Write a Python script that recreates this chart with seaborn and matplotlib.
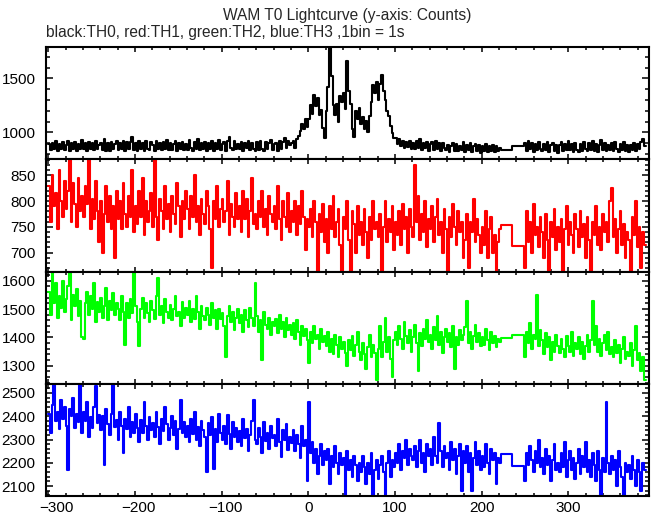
import numpy as np
import pandas as pd
import matplotlib
matplotlib.use("Agg")
import matplotlib.pyplot as plt
import matplotlib.transforms as mtransforms
from matplotlib.ticker import MultipleLocator
import seaborn as sns

# ---------------- text ----------------
TITLE = "WAM T0 Lightcurve (y-axis: Counts)"
SUBTITLE = "black:TH0, red:TH1, green:TH2, blue:TH3 ,1bin = 1s"

BANDS = ["TH0", "TH1", "TH2", "TH3"]

# ---------------- time grid (s) ----------------
SEG1_START = -300        # first data block starts here
SEG2_START = 249         # data resumes after the gap
BIN_WIDTH = 2
GAP_STARTS = [222, 235]  # two long bins spanning the data gap

# ---------------- counts ----------------
th0_seg1 = [
    890, 835, 905, 850, 920, 830, 895, 842, 910, 838,
    880, 925, 832, 900, 848, 915, 828, 890, 845, 930,
    842, 900, 826, 912, 850, 898, 835, 920, 846, 888,
    905, 840, 935, 832, 898, 826, 915, 845, 892, 918,
    835, 902, 848, 925, 828, 908, 842, 915, 955, 838,
    900, 826, 918, 845, 905, 832, 925, 850, 838, 910,
    885, 830, 920, 848, 902, 836, 912, 842, 928, 840,
    905, 834, 895, 922, 830, 900, 848, 915, 836, 890,
    840, 926, 852, 830, 910, 845, 940, 835, 900, 846,
    915, 832, 898, 850, 922, 828, 905, 845, 930, 838,
    895, 912, 830, 920, 955, 860, 835, 918, 850, 890,
    845, 915, 828, 900, 852, 925, 836, 905, 848, 826,
    908, 840, 920, 850, 830, 912, 846, 898, 928, 836,
    890, 905, 832, 918, 850, 910, 945, 860, 925, 880,
    900, 922, 860, 940, 965, 1010, 1075, 1030, 1120, 1050,
    1120, 1250, 1170, 1350, 1240, 1320, 1160, 1210, 1040, 950,
    1200, 1420, 1790, 1520, 1250, 1160, 1260, 1100, 1340, 1280,
    1360, 1220, 1660, 1380, 1260, 1030, 955, 1200, 1120, 1230,
    1080, 1140, 1030, 1110, 1000, 1150, 1280, 1440, 1360, 1470,
    1300, 1450, 1530, 1380, 1300, 1200, 1150, 1060, 990, 950,
    950, 890, 935, 870, 920, 860, 915, 865, 925, 850,
    905, 845, 920, 858, 935, 840, 900, 852, 915, 832,
    890, 908, 836, 922, 850, 898, 825, 905, 852, 840,
    885, 822, 875, 905, 830, 892, 824, 878, 838, 908,
    822, 884, 834, 898, 815, 872, 890, 828, 880, 812,
    872, 826, 895, 818, 876, 832, 888, 815, 870, 824,
    860,
]
th0_gap = [838, 875]
th0_seg2 = [
    900, 830, 920, 845, 905, 822, 890, 835, 915, 842,
    826, 892, 840, 908, 820, 885, 898, 832, 888, 812,
    880, 912, 825, 895, 840, 922, 834, 890, 822, 905,
    840, 815, 895, 830, 908, 846, 824, 898, 838, 918,
    828, 890, 822, 882, 930, 835, 898, 826, 886, 840,
    898, 830, 912, 844, 822, 890, 838, 908, 830, 888,
    818, 880, 834, 898, 826, 890, 842, 915, 935, 870,
]

th1_seg1 = [
    830, 760, 850, 790, 815, 745, 860, 800, 770, 840,
    785, 820, 881, 760, 835, 795, 750, 845, 780, 810,
    770, 830, 795, 881, 745, 805, 765, 840, 780, 720,
    800, 700, 775, 830, 760, 810, 745, 790, 690, 820,
    765, 800, 745, 835, 775, 750, 810, 770, 860, 740,
    790, 755, 820, 770, 845, 735, 800, 760, 780, 815,
    750, 881, 770, 725, 805, 780, 745, 830, 765, 795,
    740, 810, 775, 755, 835, 790, 730, 800, 765, 820,
    785, 745, 810, 770, 850, 760, 790, 735, 805, 775,
    755, 820, 790, 745, 670, 800, 765, 830, 750, 785,
    805, 760, 780, 840, 735, 795, 770, 750, 815, 765,
    790, 740, 820, 765, 805, 730, 780, 845, 755, 775,
    745, 800, 770, 820, 750, 785, 735, 810, 775, 760,
    790, 745, 830, 765, 725, 800, 770, 750, 815, 740,
    780, 760, 800, 735, 790, 755, 820, 770, 705, 765,
    750, 785, 730, 800, 760, 662, 775, 740, 795, 720,
    765, 700, 790, 745, 810, 730, 760, 785, 715, 662,
    770, 745, 800, 725, 662, 780, 755, 700, 790, 735,
    760, 715, 785, 740, 690, 770, 725, 800, 745, 760,
    730, 775, 662, 750, 800, 720, 765, 740, 790, 705,
    760, 735, 780, 715, 795, 745, 770, 700, 785, 750,
    730, 870, 760, 810, 725, 775, 740, 800, 710, 765,
    745, 790, 720, 770, 805, 735, 760, 700, 785, 745,
    662, 770, 730, 795, 750, 715, 780, 740, 760, 690,
    725, 775, 670, 760, 740, 805, 720, 765, 735, 700,
    750, 715, 780, 690, 745, 770, 700, 735, 662, 720,
    745,
]
th1_gap = [754, 713]
th1_seg2 = [
    670, 780, 720, 760, 700, 795, 735, 750, 710, 770,
    740, 690, 775, 725, 665, 760, 730, 785, 705, 750,
    720, 765, 662, 745, 790, 715, 760, 735, 700, 775,
    745, 710, 780, 730, 755, 690, 770, 725, 665, 760,
    735, 790, 715, 750, 705, 775, 740, 760, 720, 800,
    825, 730, 765, 700, 745, 780, 715, 755, 690, 740,
    725, 662, 770, 735, 800, 710, 750, 670, 740, 715,
]

th2_seg1 = [
    1560, 1480, 1632, 1520, 1590, 1470, 1545, 1505, 1600, 1490,
    1535, 1580, 1632, 1460, 1550, 1510, 1570, 1475, 1530, 1400,
    1395, 1520, 1560, 1480, 1545, 1500, 1590, 1455, 1525, 1490,
    1540, 1470, 1510, 1575, 1460, 1530, 1495, 1555, 1480, 1520,
    1500, 1460, 1545, 1490, 1375, 1520, 1470, 1535, 1485, 1632,
    1510, 1455, 1370, 1500, 1540, 1470, 1520, 1485, 1455, 1530,
    1495, 1465, 1545, 1610, 1480, 1510, 1450, 1535, 1490, 1470,
    1515, 1460, 1500, 1545, 1475, 1490, 1440, 1525, 1470, 1505,
    1480, 1530, 1455, 1500, 1465, 1545, 1490, 1430, 1510, 1475,
    1460, 1505, 1480, 1445, 1520, 1470, 1495, 1430, 1500, 1465,
    1485, 1440, 1330, 1475, 1510, 1455, 1490, 1425, 1470, 1500,
    1450, 1480, 1420, 1495, 1460, 1435, 1505, 1470, 1440, 1590,
    1475, 1420, 1460, 1320, 1490, 1445, 1430, 1470, 1410, 1455,
    1440, 1465, 1415, 1480, 1430, 1455, 1400, 1470, 1425, 1445,
    1410, 1450, 1395, 1460, 1420, 1375, 1440, 1405, 1430, 1390,
    1310, 1420, 1380, 1440, 1395, 1410, 1360, 1430, 1385, 1405,
    1370, 1420, 1350, 1395, 1340, 1410, 1375, 1330, 1400, 1360,
    1385, 1345, 1300, 1390, 1355, 1405, 1335, 1375, 1420, 1350,
    1320, 1380, 1340, 1290, 1365, 1410, 1330, 1375, 1345, 1250,
    1360, 1440, 1330, 1385, 1470, 1350, 1400, 1325, 1260, 1390,
    1420, 1375, 1440, 1395, 1360, 1455, 1405, 1380, 1425, 1350,
    1400, 1445, 1380, 1280, 1415, 1370, 1430, 1395, 1460, 1385,
    1410, 1360, 1435, 1390, 1475, 1375, 1420, 1345, 1400, 1430,
    1385, 1415, 1365, 1440, 1290, 1400, 1375, 1425, 1390, 1410,
    1435, 1530, 1380, 1420, 1360, 1405, 1445, 1385, 1415, 1370,
    1400, 1375, 1430, 1390, 1355, 1420, 1380, 1405, 1365, 1395,
    1385,
]
th2_gap = [1398, 1410]
th2_seg2 = [
    1330, 1420, 1380, 1450, 1360, 1410, 1395, 1550, 1370, 1425,
    1390, 1340, 1415, 1365, 1400, 1320, 1385, 1350, 1410, 1370,
    1345, 1395, 1360, 1330, 1405, 1370, 1350, 1420, 1335, 1380,
    1360, 1400, 1340, 1385, 1325, 1370, 1410, 1350, 1390, 1530,
    1375, 1440, 1350, 1395, 1335, 1380, 1410, 1355, 1420, 1340,
    1365, 1330, 1390, 1345, 1375, 1310, 1360, 1400, 1325, 1350,
    1335, 1380, 1300, 1355, 1440, 1320, 1345, 1280, 1330, 1250,
]

th3_seg1 = [
    2410, 2330, 2450, 2540, 2380, 2420, 2345, 2470, 2390, 2440,
    2360, 2170, 2430, 2400, 2480, 2350, 2410, 2375, 2540, 2330,
    2420, 2380, 2460, 2310, 2395, 2350, 2440, 2530, 2370, 2405,
    2340, 2400, 2190, 2430, 2365, 2320, 2410, 2540, 2355, 2385,
    2300, 2420, 2360, 2240, 2390, 2345, 2440, 2310, 2375, 2330,
    2410, 2350, 2290, 2385, 2330, 2460, 2360, 2300, 2395, 2340,
    2370, 2310, 2420, 2355, 2280, 2390, 2335, 2440, 2365, 2300,
    2350, 2400, 2320, 2380, 2260, 2345, 2470, 2330, 2375, 2310,
    2360, 2290, 2390, 2325, 2420, 2300, 2355, 2270, 2380, 2340,
    2310, 2160, 2370, 2320, 2395, 2175, 2345, 2290, 2410, 2330,
    2300, 2360, 2280, 2405, 2325, 2260, 2375, 2310, 2350, 2290,
    2335, 2270, 2390, 2305, 2345, 2250, 2320, 2380, 2470, 2300,
    2280, 2350, 2310, 2240, 2375, 2295, 2330, 2260, 2360, 2305,
    2320, 2270, 2390, 2290, 2225, 2340, 2300, 2365, 2255, 2310,
    2285, 2340, 2250, 2320, 2280, 2220, 2360, 2270, 2300, 2120,
    2460, 2240, 2290, 2200, 2260, 2150, 2230, 2280, 2190, 2250,
    2210, 2260, 2110, 2230, 2180, 2270, 2200, 2150, 2240, 2190,
    2220, 2060, 2250, 2170, 2210, 2140, 2230, 2190, 2120, 2200,
    2160, 2230, 2180, 2110, 2200, 2150, 2240, 2060, 2170, 2210,
    2130, 2190, 2230, 2160, 2060, 2200, 2250, 2140, 2210, 2180,
    2240, 2200, 2280, 2170, 2250, 2220, 2300, 2190, 2260, 2230,
    2210, 2270, 2180, 2250, 2300, 2200, 2240, 2160, 2280, 2230,
    2260, 2190, 2310, 2230, 2200, 2370, 2250, 2180, 2270, 2220,
    2240, 2170, 2290, 2210, 2260, 2150, 2230, 2280, 2080, 2250,
    2200, 2270, 2160, 2240, 2080, 2220, 2290, 2190, 2250, 2170,
    2230, 2180, 2280, 2200, 2150, 2260, 2210, 2240, 2110, 2220,
    2200,
]
th3_gap = [2238, 2188]
th3_seg2 = [
    2120, 2240, 2190, 2270, 2210, 2160, 2250, 2200, 2300, 2180,
    2220, 2150, 2260, 2190, 2230, 2120, 2210, 2280, 2170, 2200,
    2160, 2240, 2180, 2290, 2140, 2210, 2250, 2170, 2220, 2130,
    2200, 2260, 2150, 2230, 2180, 2290, 2160, 2210, 2140, 2240,
    2190, 2120, 2250, 2170, 2060, 2220, 2160, 2460, 2200, 2150,
    2230, 2170, 2210, 2100, 2250, 2180, 2140, 2060, 2200, 2160,
    2190, 2130, 2230, 2170, 2100, 2210, 2160, 2080, 2200, 2170,
]

SERIES = {
    "TH0": (th0_seg1, th0_gap, th0_seg2),
    "TH1": (th1_seg1, th1_gap, th1_seg2),
    "TH2": (th2_seg1, th2_gap, th2_seg2),
    "TH3": (th3_seg1, th3_gap, th3_seg2),
}

# ---------------- build long table ----------------
rows = []
for band in BANDS:
    s1, gap, s2 = SERIES[band]
    t1 = SEG1_START + BIN_WIDTH * np.arange(len(s1))
    t2 = SEG2_START + BIN_WIDTH * np.arange(len(s2))
    times = np.concatenate([t1, GAP_STARTS, t2, [t2[-1] + BIN_WIDTH]])
    vals = np.concatenate([s1, gap, s2, [s2[-1]]])
    rows.append(pd.DataFrame({"time": times, "counts": vals, "band": band}))
df = pd.concat(rows, ignore_index=True)

# ---------------- style ----------------
sns.set_style("ticks")
plt.rcParams["font.family"] = ["Liberation Sans", "DejaVu Sans"]
plt.rcParams["axes.linewidth"] = 1.5

COLORS = {"TH0": "#000000", "TH1": "#ff0000", "TH2": "#00ff00", "TH3": "#0000ff"}
YLIMS = {"TH0": (750, 1787), "TH1": (663, 881), "TH2": (1237, 1632), "TH3": (2058, 2540)}
YMAJOR = {"TH0": 500, "TH1": 50, "TH2": 100, "TH3": 100}
YMINOR = {"TH0": 100, "TH1": 10, "TH2": 20, "TH3": 20}
XLIM = (-302.5, 393)

W, H = 652, 515
fig = plt.figure(figsize=(W / 100, H / 100), dpi=100)
left_px, right_px = 46, 649
top_px, bot_px = 47.3, 495.8
panel_h = (bot_px - top_px) / 4

axes = []
for i, band in enumerate(BANDS):
    y0 = top_px + i * panel_h
    ax = fig.add_axes([left_px / W, 1 - (y0 + panel_h) / H,
                       (right_px - left_px) / W, panel_h / H])
    sub = df[df["band"] == band]
    sns.lineplot(data=sub, x="time", y="counts", ax=ax, color=COLORS[band],
                 lw=1.5, drawstyle="steps-post", estimator=None, sort=False,
                 legend=False)
    ax.set_xlim(*XLIM)
    ax.set_ylim(*YLIMS[band])
    ax.xaxis.set_major_locator(MultipleLocator(100))
    ax.xaxis.set_minor_locator(MultipleLocator(20))
    ax.yaxis.set_major_locator(MultipleLocator(YMAJOR[band]))
    ax.yaxis.set_minor_locator(MultipleLocator(YMINOR[band]))
    ax.set_xlabel("")
    ax.set_ylabel("")
    for sp in ax.spines.values():
        sp.set_visible(True)
        sp.set_linewidth(1.5)
        sp.set_color("black")
        sp.set_zorder(5)
    ax.tick_params(which="both", direction="in", top=True, right=True,
                   colors="black", width=1.1)
    ax.tick_params(axis="x", which="major", length=3.8)
    ax.tick_params(axis="x", which="minor", length=2.4)
    ax.tick_params(axis="y", which="major", length=5.3)
    ax.tick_params(axis="y", which="minor", length=2.6)
    ax.tick_params(axis="y", labelsize=11, pad=7.5)
    ax.tick_params(axis="x", labelsize=11, pad=3.5,
                   labelbottom=(i == len(BANDS) - 1))
    ax.set_facecolor("white")
    axes.append(ax)

# nudge negative x labels right like the reference
bottom = axes[-1]
fig.canvas.draw()
for lab, loc in zip(bottom.get_xticklabels(), bottom.get_xticks()):
    if loc < 0:
        dx = 8 if loc <= -300 else 4
        lab.set_transform(lab.get_transform() +
                          mtransforms.ScaledTranslation(dx / 100, 0, fig.dpi_scale_trans))

fig.text(347.5 / W, 1 - 20 / H, TITLE, ha="center", va="baseline", fontsize=11.2)
fig.text(46 / W, 1 - 37 / H, SUBTITLE, ha="left", va="baseline", fontsize=11.2)

fig.savefig("out.png", dpi=100, facecolor="white")
